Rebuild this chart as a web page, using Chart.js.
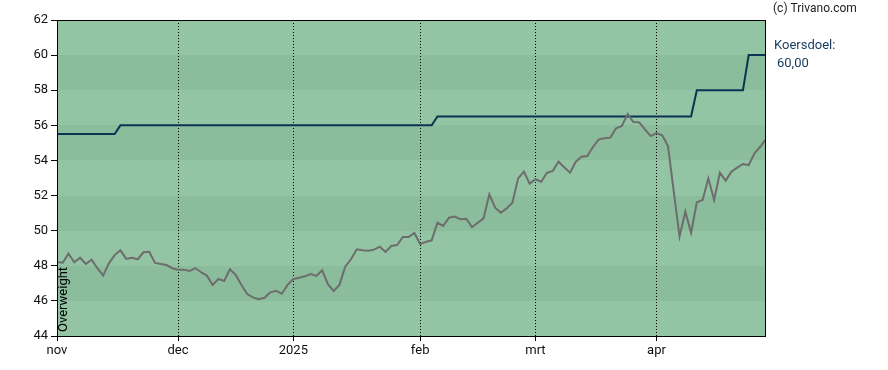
<!DOCTYPE html>
<html lang="nl">
<head>
<meta charset="UTF-8">
<title>Koers en koersdoel</title>
<script src="https://cdn.jsdelivr.net/npm/chart.js"></script>
<style>
  body { margin: 0; background: #fff; }
  #wrap { width: 888px; height: 370px; position: relative; }
</style>
</head>
<body>
<div id="wrap"><canvas id="chart"></canvas></div>
<script>
// index of the first trading day of each month
const monthStarts = [0, 21, 41, 63, 83, 104];
const monthLabels = ['nov', 'dec', '2025', 'feb', 'mrt', 'apr'];

// slotkoers per handelsdag
const koers = [
  48.22, 48.18, 48.69, 48.20, 48.46, 48.10, 48.35, 47.86, 47.44, 48.14,
  48.61, 48.88, 48.39, 48.46, 48.37, 48.77, 48.80, 48.16, 48.10, 48.04,
  47.86, 47.78, 47.78, 47.70, 47.87, 47.63, 47.44, 46.91, 47.25, 47.13,
  47.80, 47.48, 46.91, 46.39, 46.20, 46.09, 46.18, 46.49, 46.58, 46.41,
  46.91, 47.25, 47.32, 47.40, 47.53, 47.42, 47.74, 46.95, 46.56, 46.91,
  47.95, 48.37, 48.94, 48.88, 48.86, 48.92, 49.09, 48.79, 49.13, 49.18,
  49.64, 49.64, 49.87, 49.24, 49.36, 49.45, 50.45, 50.27, 50.74, 50.80,
  50.65, 50.68, 50.21, 50.45, 50.70, 52.07, 51.31, 51.02, 51.27, 51.59,
  52.98, 53.36, 52.68, 52.93, 52.79, 53.30, 53.40, 53.93, 53.61, 53.30,
  53.93, 54.21, 54.25, 54.78, 55.20, 55.26, 55.30, 55.83, 55.96, 56.65,
  56.19, 56.17, 55.77, 55.39, 55.56, 55.43, 54.82, 52.22, 49.66, 51.08,
  49.88, 51.62, 51.75, 52.98, 51.75, 53.30, 52.85, 53.36, 53.59, 53.80,
  53.74, 54.41, 54.78, 55.22
];

// koersdoel per handelsdag
const koersdoel = [
  55.5, 55.5, 55.5, 55.5, 55.5, 55.5, 55.5, 55.5, 55.5, 55.5, 55.5,
  56, 56, 56, 56, 56, 56, 56, 56, 56, 56, 56,
  56, 56, 56, 56, 56, 56, 56, 56, 56, 56, 56,
  56, 56, 56, 56, 56, 56, 56, 56, 56, 56, 56,
  56, 56, 56, 56, 56, 56, 56, 56, 56, 56, 56,
  56, 56, 56, 56, 56, 56, 56, 56, 56, 56, 56,
  56.5, 56.5, 56.5, 56.5, 56.5, 56.5, 56.5, 56.5, 56.5,
  56.5, 56.5, 56.5, 56.5, 56.5, 56.5, 56.5, 56.5, 56.5,
  56.5, 56.5, 56.5, 56.5, 56.5, 56.5, 56.5, 56.5, 56.5,
  56.5, 56.5, 56.5, 56.5, 56.5, 56.5, 56.5, 56.5, 56.5,
  56.5, 56.5, 56.5, 56.5, 56.5, 56.5, 56.5, 56.5, 56.5,
  58, 58, 58, 58, 58, 58, 58, 58, 58,
  60, 60, 60, 60
];

const advies = 'Overweight';
const doelTekst = '60,00';

const bandLight = '#93c4a3';
const bandDark = '#8bbc9b';
const navy = '#0b3353';

Chart.defaults.font.family = 'Roboto';
Chart.defaults.font.size = 13;
Chart.defaults.color = '#111';

const decor = {
  id: 'decor',
  beforeDraw(chart) {
    const { ctx, chartArea: a, scales: { y } } = chart;
    ctx.save();
    for (let v = y.min, n = 0; v < y.max; v += 2, n++) {
      const top = Math.round(y.getPixelForValue(v + 2));
      const bot = Math.round(y.getPixelForValue(v));
      ctx.fillStyle = n % 2 === 0 ? bandLight : bandDark;
      ctx.fillRect(Math.round(a.left), top, Math.round(a.right - a.left), bot - top);
    }
    ctx.restore();
  },
  afterDraw(chart) {
    const { ctx, chartArea: a } = chart;
    ctx.save();
    ctx.strokeStyle = '#000';
    ctx.lineWidth = 1;
    ctx.strokeRect(a.left + 0.5, a.top + 0.5, a.right - a.left - 1, a.bottom - a.top);

    ctx.textBaseline = 'middle';
    ctx.textAlign = 'left';
    ctx.font = '12px Roboto';
    ctx.fillStyle = '#222';
    ctx.fillText('(c) Trivano.com', a.right + 7, 9);
    ctx.font = '13px Roboto';
    ctx.fillStyle = '#163a5f';
    ctx.fillText('Koersdoel:', a.right + 8, 46);
    ctx.fillText(doelTekst, a.right + 11, 64);

    ctx.translate(a.left + 7, a.bottom - 4);
    ctx.rotate(-Math.PI / 2);
    ctx.fillStyle = '#000';
    ctx.fillText(advies, 0, 0);
    ctx.restore();
  }
};

new Chart(document.getElementById('chart'), {
  type: 'line',
  data: {
    datasets: [
      {
        label: 'Koers',
        data: koers.map((y, x) => ({ x, y })),
        borderColor: '#6d6d6d',
        borderWidth: 2,
        pointRadius: 0,
        tension: 0,
        order: 0
      },
      {
        label: 'Koersdoel',
        data: koersdoel.map((y, x) => ({ x, y })),
        borderColor: navy,
        borderWidth: 2,
        pointRadius: 0,
        tension: 0,
        order: 1
      }
    ]
  },
  options: {
    responsive: true,
    maintainAspectRatio: false,
    animation: false,
    layout: { padding: { top: 20, right: 122, left: 0, bottom: 0 } },
    plugins: { legend: { display: false }, tooltip: { enabled: false } },
    scales: {
      x: {
        type: 'linear',
        min: 0,
        max: koers.length - 1,
        afterBuildTicks: s => { s.ticks = monthStarts.map(v => ({ value: v })); },
        afterFit: s => { s.height = 34; },
        ticks: {
          autoSkip: false,
          maxRotation: 0,
          padding: 2,
          color: '#111',
          callback: v => monthLabels[monthStarts.indexOf(v)]
        },
        grid: {
          color: c => (c.tick && c.tick.value === 0) ? 'rgba(0,0,0,0)' : '#000',
          tickColor: '#000',
          tickLength: 5,
          lineWidth: 1
        },
        border: { display: false, dash: [1, 2] }
      },
      y: {
        min: 44,
        max: 62,
        afterFit: s => { s.width = 57; },
        ticks: { stepSize: 2, padding: 3, color: '#111' },
        grid: { drawOnChartArea: false, tickColor: '#000', tickLength: 6 },
        border: { display: false }
      }
    }
  },
  plugins: [decor]
});
</script>
</body>
</html>
